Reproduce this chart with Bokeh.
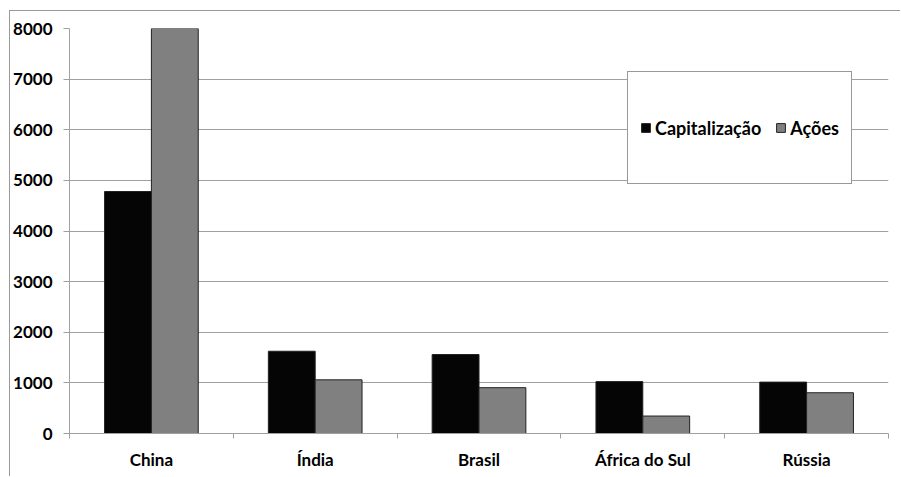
from bokeh.plotting import figure
from bokeh.models import FixedTicker, Range1d, Legend, LegendItem, ColumnDataSource
from bokeh.embed import file_html
from bokeh.resources import INLINE

categories = ["China", "Índia", "Brasil", "África do Sul", "Rússia"]
capitalizacao = [4780, 1625, 1560, 1025, 1015]
acoes = [8000, 1060, 905, 345, 805]
y_ticks = [0, 1000, 2000, 3000, 4000, 5000, 6000, 7000, 8000]

FONT = "Lato"
GRID = "#a0a0a0"

centers = [i + 0.5 for i in range(len(categories))]
src = ColumnDataSource(dict(
    x1=[c - 0.143 for c in centers],
    x2=[c + 0.143 for c in centers],
    cap=capitalizacao,
    aco=acoes,
))

p = figure(width=891, height=466, output_backend="svg", toolbar_location=None,
           x_range=Range1d(0, len(categories)), y_range=Range1d(0, 8000),
           min_border_left=59, min_border_right=13, min_border_top=17, min_border_bottom=44)
p.styles = {"margin-left": "9px", "margin-top": "10px",
            "border-left": "1px solid #999999", "border-top": "1px solid #999999"}
p.outline_line_color = None
p.background_fill_color = "white"
p.border_fill_color = "white"

r1 = p.vbar(x="x1", top="cap", width=0.286, source=src, fill_color="#050505", line_color="#222222", line_width=1)
r2 = p.vbar(x="x2", top="aco", width=0.286, source=src, fill_color="#808080", line_color="#222222", line_width=1)

# x axis
p.xaxis.ticker = FixedTicker(ticks=centers, minor_ticks=list(range(len(categories) + 1)))
p.xaxis.major_label_overrides = {c: lab for c, lab in zip(centers, categories)}
p.xaxis.major_tick_line_color = None
p.xaxis.major_tick_out = 0
p.xaxis.major_tick_in = 0
p.xaxis.minor_tick_line_color = GRID
p.xaxis.minor_tick_out = 5
p.xaxis.minor_tick_in = 0
p.xaxis.axis_line_color = GRID
p.xaxis.major_label_standoff = 10
p.xaxis.major_label_text_font = FONT
p.xaxis.major_label_text_font_style = "bold"
p.xaxis.major_label_text_font_size = "17px"
p.xaxis.major_label_text_color = "black"
p.xgrid.grid_line_color = None

# y axis
p.yaxis.ticker = FixedTicker(ticks=y_ticks, minor_ticks=[])
p.yaxis.major_tick_line_color = GRID
p.yaxis.major_tick_out = 6
p.yaxis.major_tick_in = 0
p.yaxis.minor_tick_line_color = None
p.yaxis.axis_line_color = GRID
p.yaxis.major_label_standoff = 11
p.yaxis.major_label_text_font = FONT
p.yaxis.major_label_text_font_style = "bold"
p.yaxis.major_label_text_font_size = "17px"
p.yaxis.major_label_text_color = "black"
p.ygrid.grid_line_color = GRID
p.ygrid.grid_line_width = 1

legend = Legend(items=[LegendItem(label="Capitalização", renderers=[r1]),
                       LegendItem(label="Ações", renderers=[r2])],
                orientation="horizontal", location=(558, 249))
legend.border_line_color = "#333333"
legend.border_line_width = 1
legend.background_fill_alpha = 1
legend.padding = 12
legend.spacing = 14
legend.glyph_width = 11
legend.glyph_height = 11
legend.label_height = 87
legend.label_standoff = 4
legend.label_text_font = FONT
legend.label_text_font_style = "bold"
legend.label_text_font_size = "18px"
legend.label_text_color = "black"
p.add_layout(legend, "center")

open("out.html", "w").write(file_html(p, INLINE))
